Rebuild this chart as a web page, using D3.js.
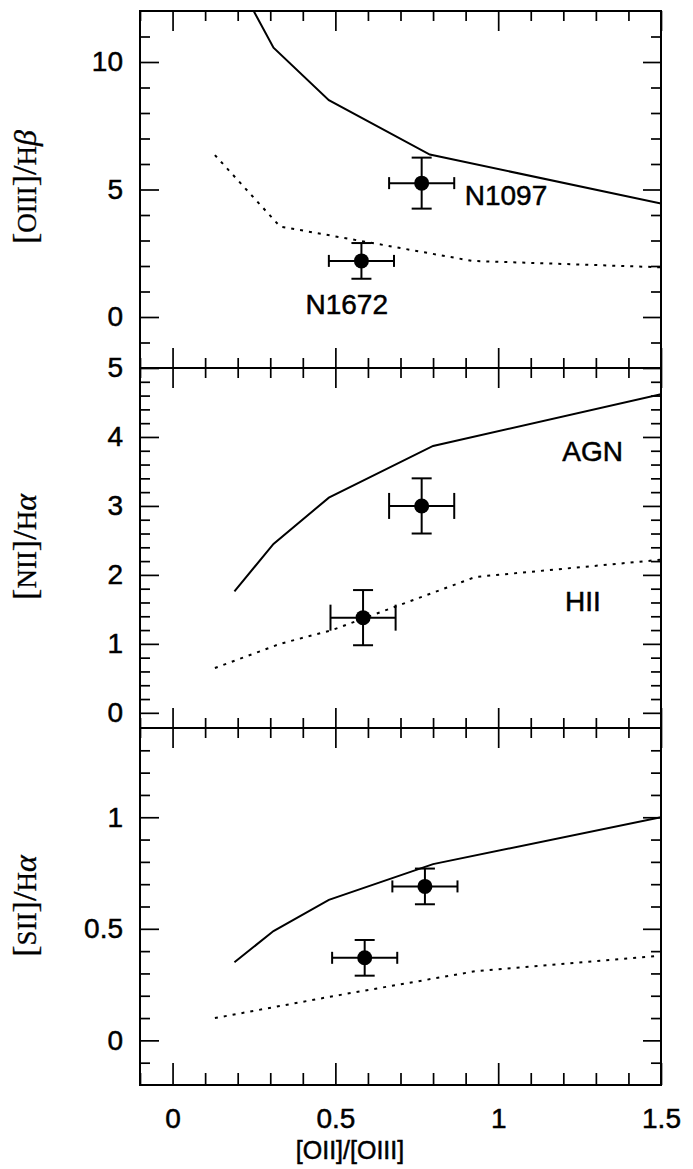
<!DOCTYPE html>
<html>
<head>
<meta charset="utf-8">
<script src="https://cdn.jsdelivr.net/npm/d3@7"></script>
<style>
  body { margin: 0; background: #fff; }
  text { font-family: "Liberation Sans", Arial, Helvetica, sans-serif; fill: #000; stroke: #000; stroke-width: 0.5px; }
</style>
</head>
<body>
<svg id="chart" width="693" height="1169"></svg>
<script>
// shared x axis: [OII]/[OIII]
const xDomain = [-0.1, 1.5];
const xMajor = [0, 0.5, 1, 1.5];
const xLabels = ["0", "0.5", "1", "1.5"];

// panel 1: [OIII]/Hbeta
const oiiiDomain = [-2, 12];
const oiiiMajor = [0, 5, 10];
const oiiiLabels = ["0", "5", "10"];
const oiiiAgn = [[0.19, 13.4], [0.31, 10.56], [0.48, 8.5], [0.79, 6.37], [1.5, 4.45]];
const oiiiHii = [[0.13, 6.35], [0.33, 3.55], [0.92, 2.2], [1.5, 1.95]];
const oiiiPoints = [
  { name: "N1097", x: 0.765, y: 5.25, ex: 0.1, ey: 1.0 },
  { name: "N1672", x: 0.58, y: 2.2, ex: 0.1, ey: 0.7 }
];

// panel 2: [NII]/Halpha
const niiDomain = [-0.22, 5];
const niiMajor = [0, 1, 2, 3, 4, 5];
const niiLabels = ["0", "1", "2", "3", "4", "5"];
const niiAgn = [[0.19, 1.76], [0.31, 2.45], [0.48, 3.12], [0.8, 3.87], [1.5, 4.62]];
const niiHii = [[0.13, 0.65], [0.33, 1.0], [0.49, 1.2], [0.93, 1.97], [1.5, 2.22]];
const niiPoints = [
  { name: "N1097", x: 0.765, y: 3.0, ex: 0.1, ey: 0.4 },
  { name: "N1672", x: 0.585, y: 1.38, ex: 0.1, ey: 0.4 }
];

// panel 3: [SII]/Halpha
const siiDomain = [-0.2, 1.4];
const siiMajor = [0, 0.5, 1];
const siiLabels = ["0", "0.5", "1"];
const siiAgn = [[0.19, 0.35], [0.31, 0.49], [0.48, 0.63], [0.8, 0.79], [1.5, 1.0]];
const siiHii = [[0.13, 0.10], [0.5, 0.2], [0.93, 0.31], [1.5, 0.38]];
const siiPoints = [
  { name: "N1097", x: 0.775, y: 0.69, ex: 0.1, ey: 0.08 },
  { name: "N1672", x: 0.59, y: 0.37, ex: 0.1, ey: 0.08 }
];

// text labels placed in data coords
const oiiiNotes = [{ t: "N1097", x: 1.024, y: 4.8 }, { t: "N1672", x: 0.535, y: 0.5 }];
const niiNotes = [{ t: "AGN", x: 1.29, y: 3.8 }, { t: "HII", x: 1.26, y: 1.62 }];

const svg = d3.select("#chart");
const left = 140, right = 661;
const x = d3.scaleLinear().domain(xDomain).range([left, right]);

const xMinor = d3.range(-0.1, 1.45, 0.1).map(v => +v.toFixed(2));

const panels = [
  { top: 11, bottom: 368, domain: oiiiDomain, major: oiiiMajor, labels: oiiiLabels,
    minor: d3.range(-1, 12, 1), agn: oiiiAgn, hii: oiiiHii, pts: oiiiPoints, notes: oiiiNotes,
    capY: 6, cy: 187, title: [["[", 0], ["OIII", 1], ["]", 0], ["/", 0], ["H", 1], ["β", 2]] },
  { top: 368, bottom: 728, domain: niiDomain, major: niiMajor, labels: niiLabels,
    minor: d3.range(0.2, 5, 0.2).map(v => +v.toFixed(2)), agn: niiAgn, hii: niiHii, pts: niiPoints, notes: niiNotes,
    capY: 13, cy: 547, title: [["[", 0], ["NII", 1], ["]", 0], ["/", 0], ["H", 1], ["α", 2]] },
  { top: 728, bottom: 1085, domain: siiDomain, major: siiMajor, labels: siiLabels,
    minor: d3.range(-0.1, 1.35, 0.1).map(v => +v.toFixed(2)), agn: siiAgn, hii: siiHii, pts: siiPoints, notes: [],
    capY: 6, cy: 906, title: [["[", 0], ["SII", 1], ["]", 0], ["/", 0], ["H", 1], ["α", 2]] }
];

function styleAxis(g) {
  g.select(".domain").remove();
  g.selectAll("line").attr("stroke", "#000").attr("stroke-width", 1.7);
  g.selectAll("text").attr("font-size", 28).attr("font-family", '"Liberation Sans", Arial, sans-serif');
}

panels.forEach((p, i) => {
  const y = d3.scaleLinear().domain(p.domain).range([p.bottom, p.top]);
  const g = svg.append("g");

  // left axis with labels
  g.append("g").attr("transform", `translate(${left},0)`)
    .call(d3.axisLeft(y).tickValues(p.major).tickSize(-19).tickPadding(17)
      .tickFormat((d, k) => p.labels[k]))
    .call(styleAxis);
  g.append("g").attr("transform", `translate(${left},0)`)
    .call(d3.axisLeft(y).tickValues(p.minor.filter(v => !p.major.includes(v))).tickSize(-10).tickFormat(""))
    .call(styleAxis);
  // right axis
  g.append("g").attr("transform", `translate(${right},0)`)
    .call(d3.axisRight(y).tickValues(p.major).tickSize(-18).tickFormat(""))
    .call(styleAxis);
  g.append("g").attr("transform", `translate(${right},0)`)
    .call(d3.axisRight(y).tickValues(p.minor.filter(v => !p.major.includes(v))).tickSize(-10).tickFormat(""))
    .call(styleAxis);

  // top and bottom x ticks (inward)
  const xMinorOnly = xMinor.filter(v => !xMajor.includes(v));
  g.append("g").attr("transform", `translate(0,${p.top})`)
    .call(d3.axisTop(x).tickValues(xMajor).tickSize(-20).tickFormat(""))
    .call(styleAxis);
  g.append("g").attr("transform", `translate(0,${p.top})`)
    .call(d3.axisTop(x).tickValues(xMinorOnly).tickSize(-10).tickFormat(""))
    .call(styleAxis);
  const isLast = i === panels.length - 1;
  g.append("g").attr("transform", `translate(0,${p.bottom})`)
    .call(d3.axisBottom(x).tickValues(xMajor).tickSize(isLast ? -22 : -20).tickPadding(23)
      .tickFormat((d, k) => isLast ? xLabels[k] : ""))
    .call(styleAxis);
  g.append("g").attr("transform", `translate(0,${p.bottom})`)
    .call(d3.axisBottom(x).tickValues(xMinorOnly).tickSize(isLast ? -12 : -10).tickFormat(""))
    .call(styleAxis);

  // frame
  g.append("rect")
    .attr("x", left).attr("y", p.top)
    .attr("width", right - left).attr("height", p.bottom - p.top)
    .attr("fill", "none").attr("stroke", "#000").attr("stroke-width", 2);

  // clip for model curves
  const clipId = "clip" + i;
  svg.append("clipPath").attr("id", clipId).append("rect")
    .attr("x", left).attr("y", p.top).attr("width", right - left).attr("height", p.bottom - p.top);

  const line = d3.line().x(d => x(d[0])).y(d => y(d[1]));
  g.append("path").datum(p.agn).attr("clip-path", `url(#${clipId})`)
    .attr("d", line).attr("fill", "none").attr("stroke", "#000").attr("stroke-width", 2);
  g.append("path").datum(p.hii).attr("clip-path", `url(#${clipId})`)
    .attr("d", line).attr("fill", "none").attr("stroke", "#000").attr("stroke-width", 2)
    .attr("stroke-dasharray", "3,6");

  // error bars and points
  const pg = g.selectAll(".pt").data(p.pts).join("g").attr("class", "pt");
  pg.append("line")
    .attr("x1", d => x(d.x - d.ex)).attr("x2", d => x(d.x + d.ex))
    .attr("y1", d => y(d.y)).attr("y2", d => y(d.y));
  pg.append("line")
    .attr("x1", d => x(d.x)).attr("x2", d => x(d.x))
    .attr("y1", d => y(d.y - d.ey)).attr("y2", d => y(d.y + d.ey));
  [-1, 1].forEach(s => {
    pg.append("line")
      .attr("x1", d => x(d.x + s * d.ex)).attr("x2", d => x(d.x + s * d.ex))
      .attr("y1", d => y(d.y) - p.capY).attr("y2", d => y(d.y) + p.capY);
    pg.append("line")
      .attr("x1", d => x(d.x) - 10).attr("x2", d => x(d.x) + 10)
      .attr("y1", d => y(d.y + s * d.ey)).attr("y2", d => y(d.y + s * d.ey));
  });
  pg.selectAll("line").attr("stroke", "#000").attr("stroke-width", 2);
  pg.append("circle").attr("cx", d => x(d.x)).attr("cy", d => y(d.y)).attr("r", 7.5).attr("fill", "#000");

  g.selectAll(".note").data(p.notes).join("text").attr("class", "note")
    .attr("x", d => x(d.x)).attr("y", d => y(d.y)).attr("dy", "0.36em")
    .attr("text-anchor", "middle").attr("font-size", 28).text(d => d.t);

  // y title, serif with small caps parts
  const sizes = [34, 27, 32];
  svg.append("text")
    .attr("transform", `translate(36,${p.cy}) rotate(-90)`)
    .attr("text-anchor", "middle")
    .style("font-family", '"Liberation Serif", "Times New Roman", serif')
    .style("stroke-width", "0.3px")
    .selectAll("tspan").data(p.title).join("tspan")
    .attr("font-size", d => sizes[d[1]])
    .attr("font-style", d => d[1] === 2 ? "italic" : "normal")
    .text(d => d[0]);
});

// x title
svg.append("text")
  .attr("x", 350).attr("y", 1159)
  .attr("text-anchor", "middle").attr("font-size", 25)
  .text("[OII]/[OIII]");
</script>
</body>
</html>
